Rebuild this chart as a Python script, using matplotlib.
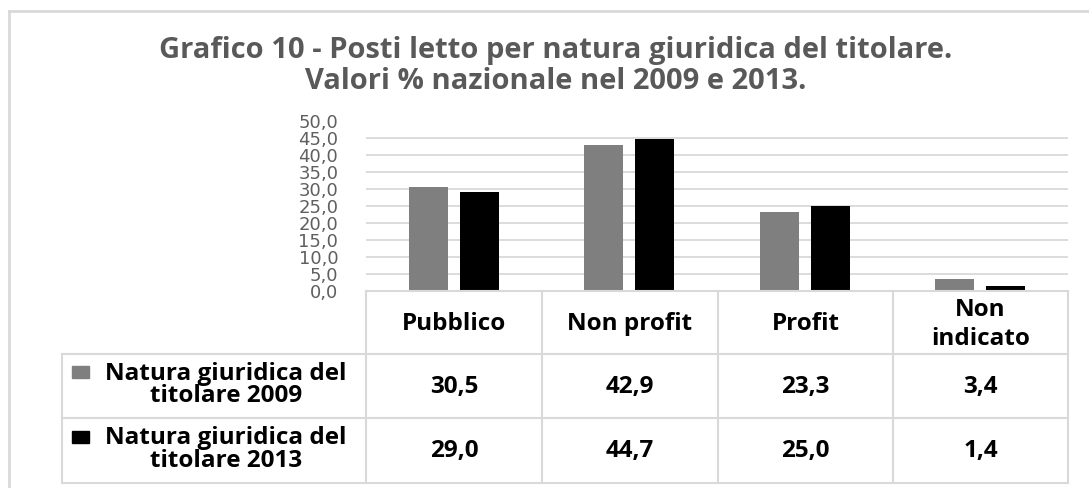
import matplotlib.pyplot as plt
import numpy as np
from matplotlib.patches import Rectangle

# --------------------------------------------------------------------
# Data
# --------------------------------------------------------------------
categories = ["Pubblico", "Non profit", "Profit", "Non\nindicato"]
series_names = ["Natura giuridica del\ntitolare 2009", "Natura giuridica del\ntitolare 2013"]
values_2009 = [30.5, 42.9, 23.3, 3.4]
values_2013 = [29.0, 44.7, 25.0, 1.4]
y_ticks = np.arange(0, 55, 5)
colors = ["#7f7f7f", "#000000"]

title = ("Grafico 10 - Posti letto per natura giuridica del titolare.\n"
         "Valori % nazionale nel 2009 e 2013.")


def comma(v):
    return f"{v:.1f}".replace(".", ",")


W, H = 1089, 488
fig = plt.figure(figsize=(W / 100, H / 100), dpi=100)
fig.patch.set_facecolor("white")


def fx(px):
    return px / W


def fy(py):
    return 1 - py / H


# --------------------------------------------------------------------
# Bars
# --------------------------------------------------------------------
left, right, top, bottom = 366, 1068, 121.5, 290.5
ax = fig.add_axes([fx(left), fy(bottom), fx(right) - fx(left), fy(top) - fy(bottom)])
x = np.arange(len(categories))
off, bw = 0.145, 0.222
ax.bar(x - off, values_2009, bw, color=colors[0], zorder=3)
ax.bar(x + off, values_2013, bw, color=colors[1], zorder=3)
ax.set_xlim(-0.5, len(categories) - 0.5)
ax.set_ylim(0, 50)
ax.set_yticks(y_ticks)
ax.set_yticklabels([comma(v) for v in y_ticks], fontsize=13, color="#5f5f5f",
                   family="DejaVu Sans")
ax.yaxis.grid(True, color="#d9d9d9", lw=1.3, zorder=0)
ax.set_xticks([])
for s in ax.spines.values():
    s.set_visible(False)
ax.tick_params(axis="y", length=0, pad=20)

# --------------------------------------------------------------------
# Data table + frame
# --------------------------------------------------------------------
tab = fig.add_axes([0, 0, 1, 1], zorder=5)
tab.set_xlim(0, W)
tab.set_ylim(H, 0)
tab.axis("off")

grid_c = "#d9d9d9"
col_x = [366, 542, 718, 893, 1068]
row_y = [291, 354, 418, 483]
label_left = 62

tab.plot([col_x[0], col_x[-1]], [row_y[0], row_y[0]], color=grid_c, lw=1.5)
for yy in row_y[1:]:
    tab.plot([label_left, col_x[-1]], [yy, yy], color=grid_c, lw=1.5)
for xx in col_x:
    tab.plot([xx, xx], [row_y[0], row_y[-1]], color=grid_c, lw=1.5)
tab.plot([label_left, label_left], [row_y[1], row_y[-1]], color=grid_c, lw=1.5)

# outer chart frame (top and left edges)
tab.plot([9, W], [11, 11], color=grid_c, lw=2)
tab.plot([9, 9], [11, H], color=grid_c, lw=2)

font = "Open Sans"
fs = 17.5
for i, cat in enumerate(categories):
    cx = (col_x[i] + col_x[i + 1]) / 2
    tab.text(cx, (row_y[0] + row_y[1]) / 2 + 2, cat, ha="center", va="center",
             fontsize=fs, fontweight="bold", family=font, linespacing=1.25)
    for r, vals in enumerate([values_2009, values_2013]):
        tab.text(cx, (row_y[r + 1] + row_y[r + 2]) / 2 + 1, comma(vals[i]),
                 ha="center", va="center", fontsize=fs, fontweight="bold", family=font)

for r, name in enumerate(series_names):
    cy = (row_y[r + 1] + row_y[r + 2]) / 2
    tab.add_patch(Rectangle((72, cy - 20), 17, 12, color=colors[r]))
    tab.text(226, cy - 1, name, ha="center", va="center", fontsize=fs,
             fontweight="bold", family=font, linespacing=0.9)

tab.text(556, 66, title, ha="center", va="center", fontsize=21,
         fontweight="bold", family=font, color="#595959", linespacing=1.1)

fig.savefig("out.png", dpi=100)
